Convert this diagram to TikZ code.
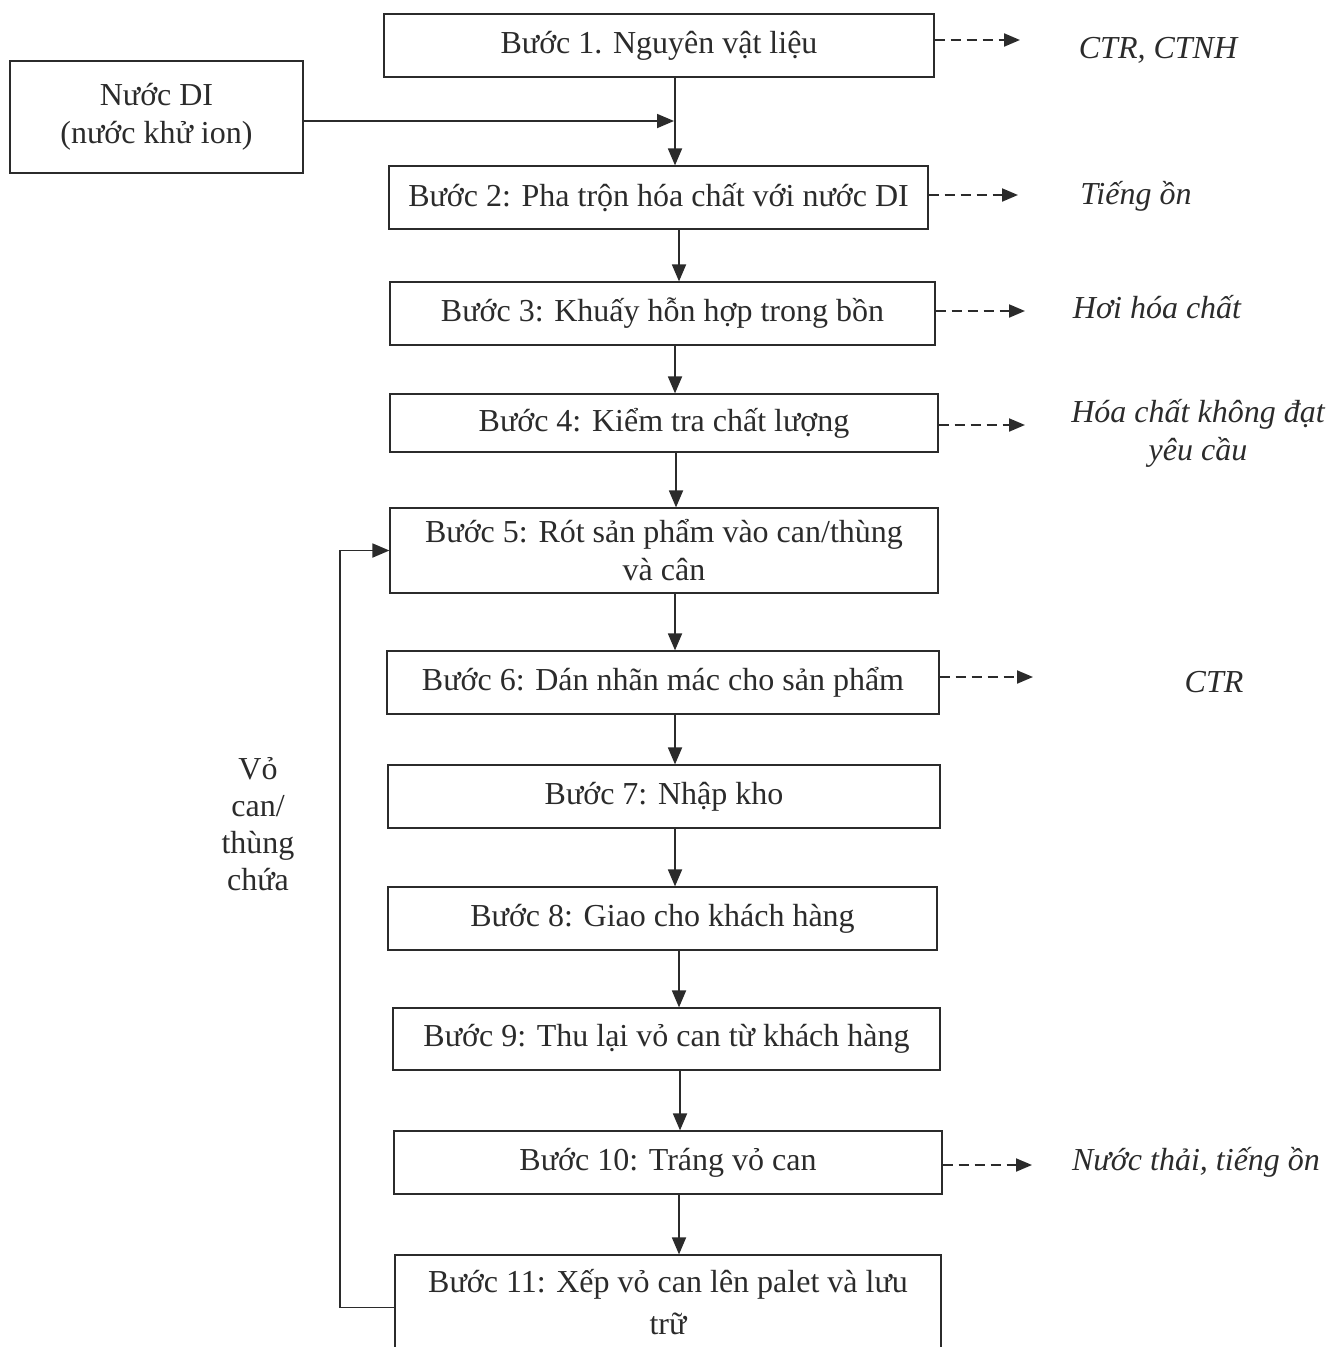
\documentclass[tikz,border=0pt]{standalone}
\usepackage{fontspec}
\setmainfont{Liberation Serif}
\usetikzlibrary{arrows.meta}
\definecolor{flInk}{HTML}{2B2B2B}

\begin{document}
\begin{tikzpicture}[
  x=1pt, y=-1pt,
  stepbox/.style={
    draw=flInk,
    line width=1.2pt,
    align=center,
    inner sep=0pt,
    text=flInk,
    font=\fontsize{32}{38}\selectfont
  },
  flow/.style={-{Triangle[length=17pt,width=14pt]}, line width=1.8pt, draw=flInk},
  emit/.style={-{Triangle[length=16pt,width=13pt]}, dash pattern=on 10pt off 6pt,
    line width=2pt, draw=flInk},
  outlab/.style={font=\fontsize{32}{38}\selectfont\itshape, align=center, text=flInk},
  sidelab/.style={font=\fontsize{32}{37}\selectfont, align=center, text=flInk}
]
  \useasboundingbox (0,0) rectangle (1340,1347);

  % process steps
  \node[stepbox, minimum width=550pt, minimum height=63pt] (B1) at (659,45.5) {Bước 1. Nguyên vật liệu};
  \node[stepbox, minimum width=293pt, minimum height=112pt] (DI) at (156.5,117) {Nước DI\\(nước khử ion)};
  \node[stepbox, minimum width=539pt, minimum height=63pt] (B2) at (658.5,197.5) {Bước 2: Pha trộn hóa chất với nước DI};
  \node[stepbox, minimum width=545pt, minimum height=63pt] (B3) at (662.5,313.5) {Bước 3: Khuấy hỗn hợp trong bồn};
  \node[stepbox, minimum width=548pt, minimum height=58pt] (B4) at (664,423) {Bước 4: Kiểm tra chất lượng};
  \node[stepbox, minimum width=548pt, minimum height=85pt] (B5) at (664,550.5) {Bước 5: Rót sản phẩm vào can/thùng\\và cân};
  \node[stepbox, minimum width=552pt, minimum height=63pt] (B6) at (663,682.5) {Bước 6: Dán nhãn mác cho sản phẩm};
  \node[stepbox, minimum width=552pt, minimum height=63pt] (B7) at (664,796.5) {Bước 7: Nhập kho};
  \node[stepbox, minimum width=549pt, minimum height=63pt] (B8) at (662.5,918.5) {Bước 8: Giao cho khách hàng};
  \node[stepbox, minimum width=547pt, minimum height=62pt] (B9) at (666.5,1039) {Bước 9: Thu lại vỏ can từ khách hàng};
  \node[stepbox, minimum width=548pt, minimum height=63pt] (B10) at (668,1162.5) {Bước 10: Tráng vỏ can};
  \node[stepbox, minimum width=546pt, minimum height=95pt, font=\fontsize{32}{42}\selectfont] (B11) at (668,1302.5) {Bước 11: Xếp vỏ can lên palet và lưu\\trữ};

  % main flow
  \foreach \a/\b/\x in {B1/B2/675, B2/B3/679, B3/B4/675, B4/B5/676, B5/B6/675,
                        B6/B7/675, B7/B8/675, B8/B9/679, B9/B10/680, B10/B11/679}
  {
    \coordinate (col) at (\x,0);
    \draw[flow] (\a.south -| col) -- (\b.north -| col);
  }

  % DI water feed
  \coordinate (DIin) at (674,121);
  \draw[flow] (DI.east |- DIin) -- (DIin);

  % emissions
  \foreach \s/\ex/\ey/\lx/\ly/\txt in {
      B1/1020/40/1158/50/{CTR, CTNH},
      B2/1018/195/1136/196/{Tiếng ồn},
      B3/1025/311/1157/307/{Hơi hóa chất},
      B4/1025/425/1198/433/{Hóa chất không đạt\\yêu cầu},
      B6/1033/677/1214/682/{CTR},
      B10/1032/1165/1196/1162/{Nước thải, tiếng ồn}}
  {
    \coordinate (e\s) at (\ex,\ey);
    \node[outlab] (L\s) at (\lx,\ly) {\txt};
    \draw[emit] (\s.east |- e\s) -- (e\s);
  }

  % return loop of empty cans
  \coordinate (lp) at (340,0);
  \draw[flow] ([yshift=-5pt]B11.west) -- ([yshift=-5pt]B11.west -| lp) |- (B5.west);
  \node[sidelab] (shell) at (258,824) {Vỏ\\can/\\thùng\\chứa};
\end{tikzpicture}
\end{document}
